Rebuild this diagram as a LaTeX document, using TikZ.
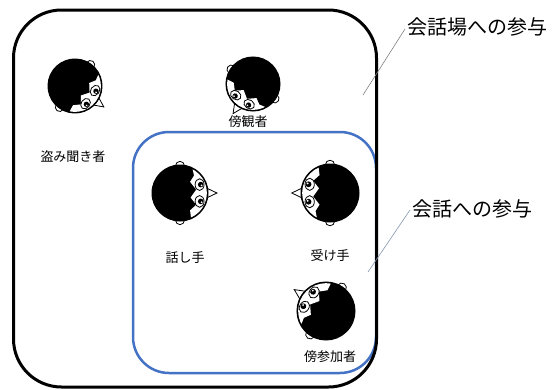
\documentclass[tikz,border=0pt]{standalone}
\usepackage{fontspec}
\newfontfamily\jpfont{Noto Sans CJK JP}
\usetikzlibrary{positioning}
\definecolor{convblue}{RGB}{68,114,196}
\definecolor{leadgray}{RGB}{132,151,176}

\tikzset{
  head/.pic={
    % ears and nose sit under the head
    \draw[fill=white, line width=0.8pt] (0,0.97) circle (0.16);
    \draw[fill=white, line width=0.8pt] (0,-0.97) circle (0.16);
    \draw[fill=white, line width=0.8pt, line join=miter]
      (0.9,0.2) -- (1.32,0) -- (0.9,-0.2) -- cycle;
    \fill[black] (0,0) circle (1);
    % face with the fringe
    \begin{scope}
      \clip (0,0) circle (0.96);
      \fill[white] (0.42,1.1) -- (0.36,0.62) -- (0.58,0.42) -- (0.38,0.16)
        -- (0.58,-0.12) -- (0.36,-0.4) -- (0.5,-0.62) -- (0.4,-1.1)
        -- (1.5,-1.1) -- (1.5,1.1) -- cycle;
    \end{scope}
    \draw[line width=1pt] (0,0) circle (1);
    % eyes
    \foreach \s in {1,-1} {
      \draw[fill=white, line width=0.8pt] (0.7,0.3*\s) ellipse (0.16 and 0.21);
      \fill[black] (0.74,0.3*\s) circle (0.1);
      \fill[white] (0.77,0.3*\s+0.03) circle (0.035);
    }
  }
}

\begin{document}
\begin{tikzpicture}[
  x=1pt, y=-1pt,
  field/.style={
    draw=black, line width=3pt, rounded corners=48pt
  },
  talk/.style={
    draw=convblue, line width=2.5pt, rounded corners=36pt
  },
  role/.style={
    font=\jpfont\fontsize{13}{15}\selectfont, inner sep=1pt
  },
  title/.style={
    font=\jpfont\fontsize{20}{24}\selectfont, inner sep=2pt
  },
  lead/.style={
    line width=0.6pt, color=#1
  }
]
\useasboundingbox (0,0) rectangle (555,389);

% Frames
\draw[talk] (133,132) rectangle (376,373);
\draw[field] (13.5,10) rectangle (376.5,387);

% Heads
\pic[rotate=-36, scale=27] at (75,86) {head};
\pic[rotate=-124, scale=27] at (253,84) {head};
\pic[scale=28] at (180,193) {head};
\pic[rotate=180, scale=29] at (330,193) {head};
\pic[rotate=146, scale=29] at (326,311) {head};

% Role names
\node[role] (eaves) at (73,157) {盗み聞き者};
\node[role] (bystander) at (248,122) {傍観者};
\node[role] (speaker) at (185,258) {話し手};
\node[role] (addressee) at (330,256) {受け手};
\node[role] (side) at (330,357) {傍参加者};

% Frame titles with leader lines
\node[title, anchor=west] (fieldlbl) at (405,27) {会話場への参与};
\node[title, anchor=west] (talklbl) at (410,209) {会話への参与};
\coordinate (fieldtip) at (363,95);
\coordinate (talktip) at (368,272);
\draw[lead=gray] ([yshift=-2pt]fieldlbl.west) -- (fieldtip);
\draw[lead=leadgray] ([yshift=-1pt]talklbl.west) -- (talktip);

\end{tikzpicture}
\end{document}
